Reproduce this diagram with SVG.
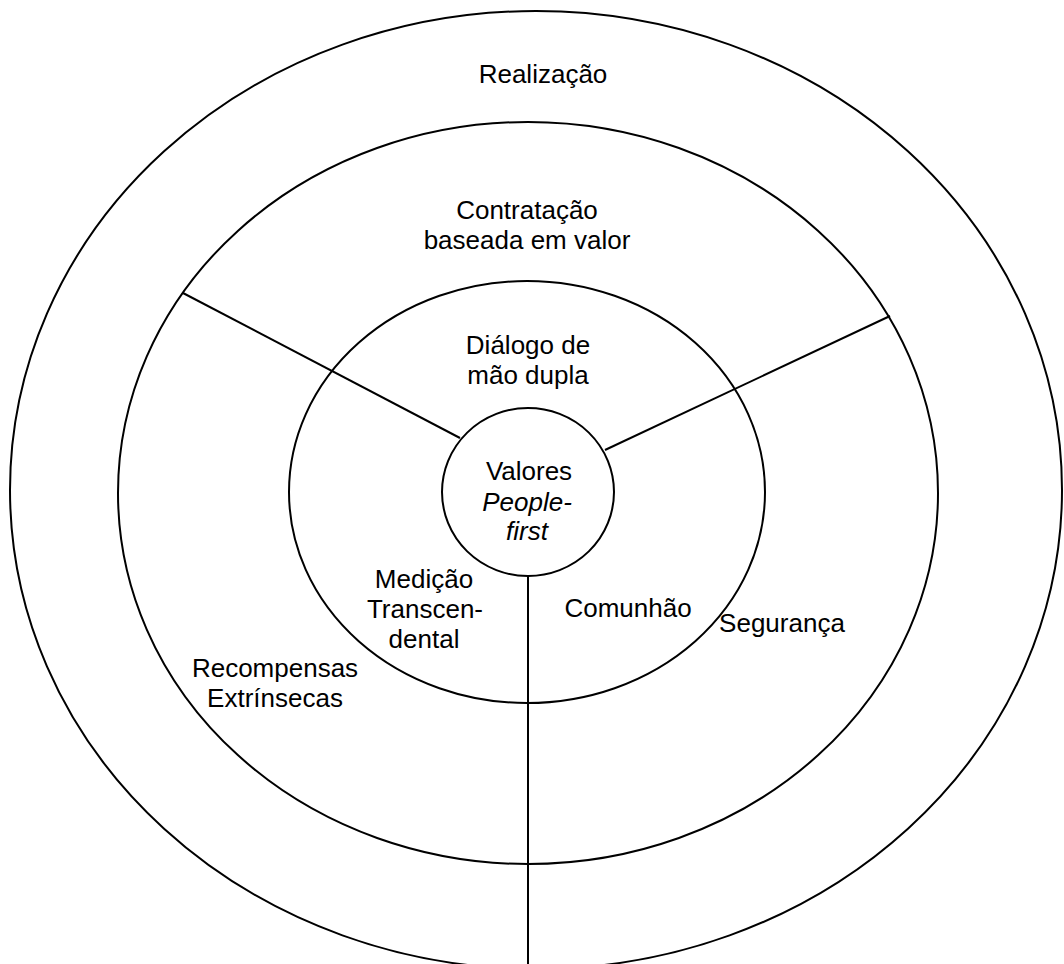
<svg xmlns="http://www.w3.org/2000/svg" width="1064" height="964" viewBox="0 0 1064 964">
  <style>
    .ring { fill: none; stroke: #000; stroke-width: 2; }
    .spoke { stroke: #000; stroke-width: 2; fill: none; }
    .lbl { font-family: "Liberation Sans", Arial, sans-serif; font-size: 26px; fill: #000; text-anchor: middle; }
    .it { font-style: italic; }
  </style>
  <rect x="0" y="0" width="1064" height="964" fill="#fff"/>

  <!-- outer ring -->
  <g id="realizacao">
    <ellipse class="ring" cx="536" cy="490" rx="526" ry="479"/>
    <text class="lbl" x="543" y="83">Realização</text>
  </g>

  <!-- second ring -->
  <g id="contratacao">
    <ellipse class="ring" cx="528" cy="493" rx="410" ry="371"/>
    <text class="lbl" x="527" y="219">Contratação</text>
    <text class="lbl" x="527" y="249">baseada em valor</text>
  </g>

  <!-- third ring -->
  <g id="dialogo">
    <ellipse class="ring" cx="527" cy="492" rx="238" ry="211"/>
    <text class="lbl" x="528" y="354">Diálogo de</text>
    <text class="lbl" x="528" y="384">mão dupla</text>
  </g>

  <!-- core -->
  <g id="valores">
    <ellipse class="ring" cx="528" cy="492" rx="86" ry="84"/>
    <text class="lbl" x="529" y="480">Valores</text>
    <text class="lbl it" x="527" y="511">People-</text>
    <text class="lbl it" x="527" y="540">first</text>
  </g>

  <!-- sector dividers -->
  <g id="connectors">
    <line class="spoke" x1="183" y1="293" x2="460" y2="438"/>
    <line class="spoke" x1="890" y1="316" x2="605" y2="450"/>
    <line class="spoke" x1="528" y1="577" x2="528" y2="964"/>
  </g>

  <!-- sector labels -->
  <g id="medicao">
    <text class="lbl" x="424" y="588">Medição</text>
    <text class="lbl" x="425" y="618">Transcen-</text>
    <text class="lbl" x="424" y="648">dental</text>
  </g>
  <g id="recompensas">
    <text class="lbl" x="275" y="677">Recompensas</text>
    <text class="lbl" x="275" y="707">Extrínsecas</text>
  </g>
  <g id="comunhao">
    <text class="lbl" x="628" y="617">Comunhão</text>
  </g>
  <g id="seguranca">
    <text class="lbl" x="782" y="632">Segurança</text>
  </g>
</svg>
